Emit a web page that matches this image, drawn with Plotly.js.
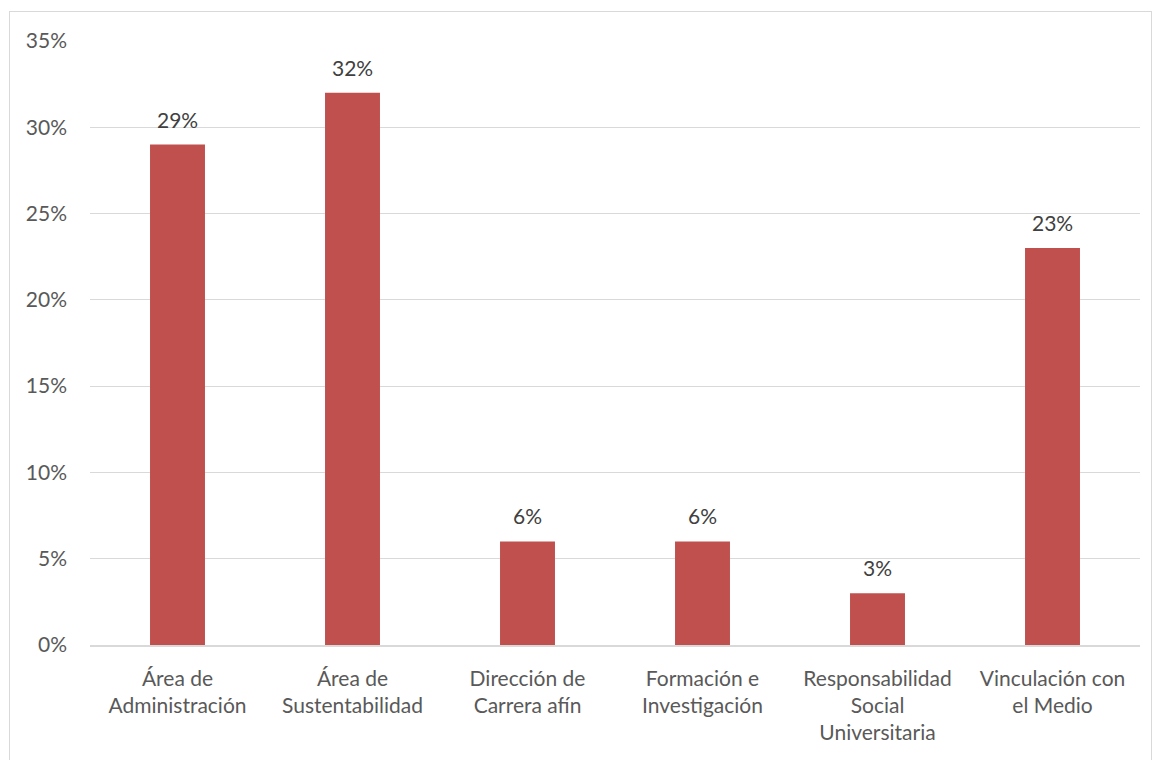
<!DOCTYPE html>
<html>
<head>
<meta charset="utf-8">
<script src="https://cdn.plot.ly/plotly-3.0.1.min.js"></script>
<style>
  html, body { margin: 0; padding: 0; background: #fff; }
  #wrap { position: relative; width: 1155px; height: 760px; }
  #chart { width: 1155px; height: 760px; }
  #frame { position: absolute; left: 9px; top: 11px; width: 1143px; height: 760px; border: 1px solid #d9d9d9; pointer-events: none; box-sizing: border-box; }
</style>
</head>
<body>
<div id="wrap">
  <div id="chart"></div>
  <div id="frame"></div>
</div>
<script>
const categories = [
  "Área de<br>Administración",
  "Área de<br>Sustentabilidad",
  "Dirección de<br>Carrera afín",
  "Formación e<br>Investigación",
  "Responsabilidad<br>Social<br>Universitaria",
  "Vinculación con<br>el Medio"
];
const values = [0.29, 0.32, 0.06, 0.06, 0.03, 0.23];
const valueLabels = ["29%", "32%", "6%", "6%", "3%", "23%"];
const yTickVals = [0, 0.05, 0.10, 0.15, 0.20, 0.25, 0.30, 0.35];
const yTickText = ["0%", "5%", "10%", "15%", "20%", "25%", "30%", "35%"];

const font = "Lato, 'Open Sans', sans-serif";
const fs = 21;

const annotations = categories.map((c, i) => ({
  x: c, y: values[i], xref: "x", yref: "y",
  text: valueLabels[i], showarrow: false,
  yanchor: "bottom", yshift: 11,
  font: { family: font, size: fs, color: "#404040" }
}));

Plotly.newPlot("chart", [{
  type: "bar",
  x: categories,
  y: values,
  marker: { color: "#C0504D" },
  hoverinfo: "skip"
}], {
  width: 1155,
  height: 760,
  margin: { l: 90, r: 15, t: 41, b: 115 },
  paper_bgcolor: "#ffffff",
  plot_bgcolor: "#ffffff",
  bargap: 0.686,
  showlegend: false,
  annotations: annotations,
  font: { family: font, size: fs, color: "#595959" },
  xaxis: {
    type: "category",
    showgrid: false,
    showline: true,
    linecolor: "#d9d9d9",
    linewidth: 1.5,
    ticks: "",
    ticklabelstandoff: 14,
    tickfont: { family: font, size: fs, color: "#595959" },
    fixedrange: true
  },
  yaxis: {
    range: [0, 0.35],
    tickvals: yTickVals,
    ticktext: yTickText,
    showgrid: true,
    gridcolor: "#d9d9d9",
    gridwidth: 1,
    zeroline: false,
    showline: false,
    ticks: "",
    ticklabelstandoff: 22,
    tickfont: { family: font, size: fs, color: "#595959" },
    fixedrange: true
  }
}, { displayModeBar: false, staticPlot: true });
</script>
</body>
</html>
